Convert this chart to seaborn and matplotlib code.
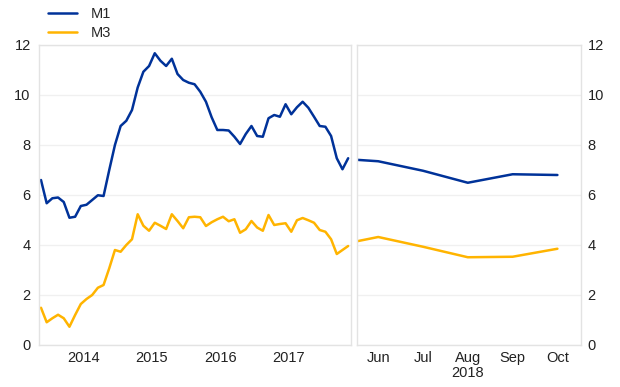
import matplotlib
matplotlib.use("Agg")
import matplotlib.pyplot as plt
import seaborn as sns
import pandas as pd
import numpy as np

# ---- data ----
# left panel: monthly, Nov 2013 .. May 2018
m1_hist = [6.6, 5.67, 5.87, 5.9, 5.72, 5.09, 5.13, 5.56, 5.61, 5.8, 5.99, 5.96,
           7.0, 8.0, 8.76, 8.97, 9.4, 10.3, 10.93, 11.16, 11.67, 11.37, 11.16, 11.45,
           10.84, 10.6, 10.49, 10.43, 10.13, 9.73, 9.11, 8.6, 8.6, 8.58, 8.33, 8.04,
           8.44, 8.76, 8.36, 8.33, 9.07, 9.2, 9.13, 9.63, 9.23, 9.51, 9.73, 9.49,
           9.13, 8.76, 8.73, 8.36, 7.47, 7.03, 7.47]
m3_hist = [1.49, 0.91, 1.07, 1.21, 1.07, 0.73, 1.2, 1.64, 1.84, 2.0, 2.29, 2.4,
           3.07, 3.8, 3.73, 4.0, 4.23, 5.23, 4.77, 4.57, 4.89, 4.77, 4.64, 5.23,
           4.96, 4.67, 5.11, 5.13, 5.11, 4.76, 4.91, 5.03, 5.13, 4.95, 5.03, 4.49,
           4.63, 4.96, 4.7, 4.57, 5.2, 4.8, 4.84, 4.87, 4.53, 4.99, 5.08, 4.99,
           4.89, 4.6, 4.53, 4.23, 3.64, 3.8, 3.96]
years = ["2014", "2015", "2016", "2017"]

# right panel: May 2018 .. Oct 2018
months_recent = ["May", "Jun", "Jul", "Aug", "Sep", "Oct"]
m1_recent = [7.47, 7.35, 6.97, 6.49, 6.83, 6.8]
m3_recent = [3.96, 4.32, 3.93, 3.51, 3.53, 3.85]

blue = "#003299"
yellow = "#FFB400"

sns.set_style("white")
plt.rcParams["font.family"] = ["Liberation Sans", "DejaVu Sans"]
plt.rcParams["font.size"] = 10

hist = pd.DataFrame({"i": np.arange(len(m1_hist)), "M1": m1_hist, "M3": m3_hist})
rec = pd.DataFrame({"i": np.arange(len(m1_recent)), "M1": m1_recent, "M3": m3_recent})

fig = plt.figure(figsize=(6.2, 3.87), dpi=100)
W, H = 620, 387
axL = fig.add_axes([39 / W, 1 - 345 / H, (351 - 39) / W, 300 / H])
axR = fig.add_axes([356.7 / W, 1 - 345 / H, (580.7 - 356.7) / W, 300 / H])

lw = 1.8
txt = "#222222"
for ax, df in ((axL, hist), (axR, rec)):
    sns.lineplot(data=df, x="i", y="M1", ax=ax, color=blue, lw=lw, label="M1")
    sns.lineplot(data=df, x="i", y="M3", ax=ax, color=yellow, lw=lw, label="M3")
    ax.set_ylim(0, 12)
    ax.set_yticks(range(0, 13, 2))
    ax.grid(axis="y", color="#f0f0f0", lw=1)
    ax.set_xlabel("")
    ax.set_ylabel("")
    for s in ax.spines.values():
        s.set_color("#e3e3e3")
        s.set_linewidth(1)
    ax.tick_params(axis="y", length=0, pad=6, labelsize=10.5, colors=txt)
    ax.tick_params(axis="x", which="both", length=0, labelsize=10.5, colors=txt, pad=4)

h, l = axL.get_legend_handles_labels()
axL.get_legend().remove()
axR.get_legend().remove()

# left x axis
axL.set_xlim(-0.35, 54.5)
year_pos = [2 + 5.5 + 12 * k for k in range(len(years))]
axL.set_xticks(year_pos)
axL.set_xticklabels(years)
axL.set_xticks(np.arange(0, 55, 2), minor=True)
axL.tick_params(axis="x", which="minor", length=4, color="#e3e3e3", width=1, direction="out")

# right x axis
axR.set_xlim(0.52, 5.52)
axR.set_xticks(range(1, 6))
axR.set_xticklabels(months_recent[1:])
axR.set_xticks([1.5, 2.5, 3.5, 4.5], minor=True)
axR.tick_params(axis="x", which="minor", length=4, color="#e3e3e3", width=1, direction="out")
axR.yaxis.tick_right()
axR.tick_params(axis="y", labelleft=False, labelright=True, pad=5)
axR.text(3, -0.07, "2018", transform=axR.get_xaxis_transform(), ha="center", va="top",
         fontsize=10.5, color=txt)

fig.legend(h, l, loc="upper left", bbox_to_anchor=(48 / W, 1 - 7 / H), frameon=False,
           handlelength=2.0, handletextpad=0.9, labelspacing=0.35, borderpad=0,
           borderaxespad=0, fontsize=10.5)

fig.savefig("out.png", dpi=100)
